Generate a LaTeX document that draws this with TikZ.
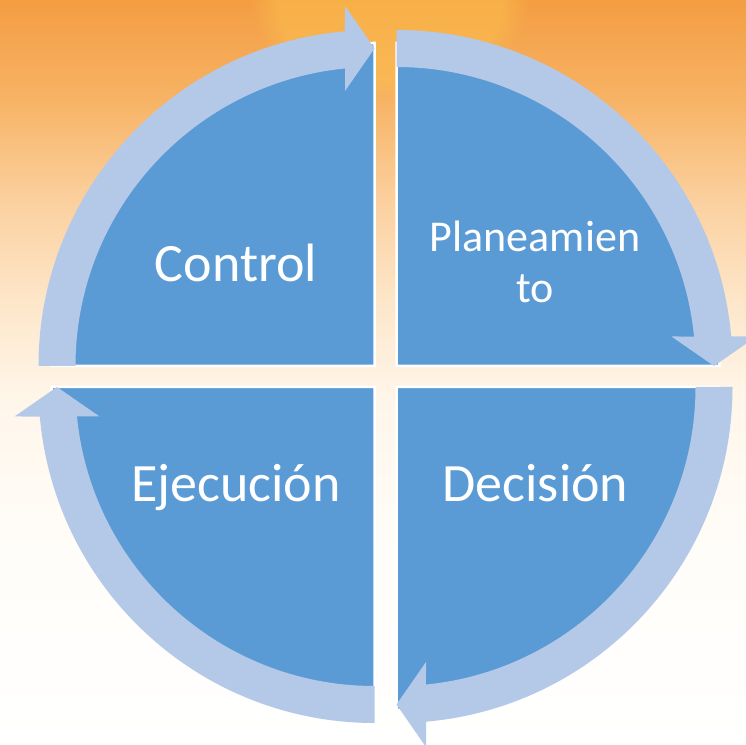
\documentclass[tikz,border=0pt]{standalone}
\usepackage{fontspec}
\setmainfont{Carlito}
\usetikzlibrary{fadings}
\definecolor{pieblue}{HTML}{5B9BD5}
\definecolor{bandblue}{HTML}{B4C9E8}
\definecolor{bgA}{HTML}{F49D42}
\definecolor{bgB}{HTML}{F7B365}
\definecolor{bgC}{HTML}{FBD09E}
\definecolor{bgD}{HTML}{FDE6C9}
\definecolor{bgE}{HTML}{FFF6EA}
\definecolor{bgF}{HTML}{FFFDF9}
\definecolor{glowc}{HTML}{FCC24E}
\tikzset{
  piece/.style={fill=pieblue, draw=white, line width=2.5pt},
  bandarrow/.style={fill=bandblue},
  label/.style={text=white, font=\fontsize{54}{60}\selectfont, anchor=base, inner sep=0pt},
  smalllabel/.style={text=white, font=\fontsize{44}{50}\selectfont, anchor=base, inner sep=0pt}
}
\newcommand{\bandshape}{%
  \fill[bandarrow] (180:299) arc[start angle=180, end angle=95.66, radius=299]
    -- (-29.5,275) -- (0,317.5) -- (-29.5,360)
    -- (95.04:336) arc[start angle=95.04, end angle=180, radius=336] -- cycle;}
\begin{document}
\begin{tikzpicture}[x=1pt,y=1pt]
\useasboundingbox (0,0) rectangle (746,744);
\clip (0,0) rectangle (746,744);
% background
\fill[white] (0,0) rectangle (746,744);
\shade[top color=bgA, bottom color=bgB] (0,744) rectangle (746,644);
\shade[top color=bgB, bottom color=bgC] (0,644.2) rectangle (746,544);
\shade[top color=bgC, bottom color=bgD] (0,544.2) rectangle (746,444);
\shade[top color=bgD, bottom color=bgE] (0,444.2) rectangle (746,344);
\shade[top color=bgE, bottom color=bgF] (0,344.2) rectangle (746,194);
\shade[top color=bgF, bottom color=white] (0,194.2) rectangle (746,0);
\fill[glowc, opacity=0.5, path fading=circle with fuzzy edge 20 percent] (390,744) ellipse [x radius=140, y radius=100];
% quadrants
\coordinate (TLc) at (374.5,378);
\coordinate (TRc) at (396.5,378);
\coordinate (BRc) at (396.5,357);
\coordinate (BLc) at (374.5,357);
\fill[piece] (TLc) -- ++(180:323) arc[start angle=180, end angle=90, radius=323] -- cycle;
\fill[piece] (TRc) -- ++(90:323) arc[start angle=90, end angle=0, radius=323] -- cycle;
\fill[piece] (BRc) -- ++(0:323) arc[start angle=0, end angle=-90, radius=323] -- cycle;
\fill[piece] (BLc) -- ++(-90:323) arc[start angle=-90, end angle=-180, radius=323] -- cycle;
% circular arrows
\begin{scope}[shift={(TLc)}] \bandshape \end{scope}
\begin{scope}[shift={(TRc)}, rotate=-90] \bandshape \end{scope}
\begin{scope}[shift={(BRc)}, rotate=-180] \bandshape \end{scope}
\begin{scope}[shift={(BLc)}, rotate=90] \bandshape \end{scope}
% labels
\node[label] (control) at (236,462) {Control};
\node[smalllabel] (plan1) at (535,492) {Planeamien};
\node[smalllabel] (plan2) at (535,441) {to};
\node[label] (ejec) at (236,242) {Ejecución};
\node[label] (decis) at (535.5,242) {Decisión};
\end{tikzpicture}
\end{document}
